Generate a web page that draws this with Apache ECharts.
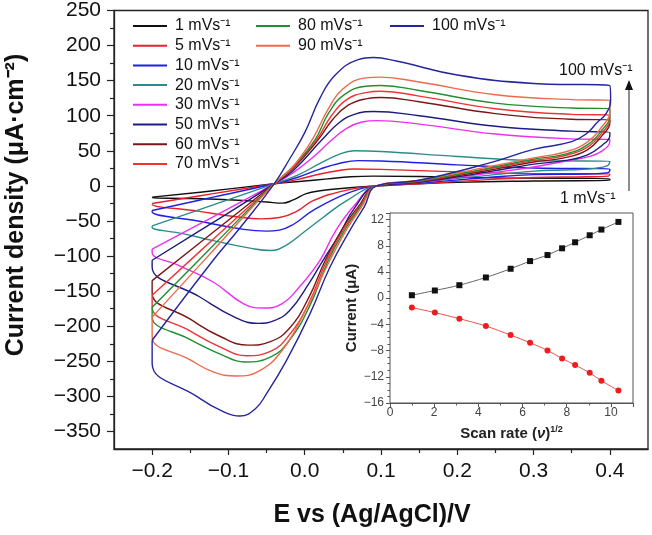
<!DOCTYPE html>
<html><head><meta charset="utf-8">
<script src="https://cdn.jsdelivr.net/npm/echarts@6/dist/echarts.min.js"></script>
<style>html,body{margin:0;padding:0;background:#fff}#c{width:652px;height:535px}</style>
</head><body><div id="c"></div>
<script>
// ---------- data ----------
const scanRates = [1, 5, 10, 20, 30, 50, 60, 70, 80, 90, 100];

const cv1 = [[-0.2,-16],[-0.12,-7],[-0.04,3],[0.0,7],[0.03,10],[0.06,13],[0.09,14],[0.15,13.5],[0.25,11.5],[0.4,10],
  [0.4,8],[0.3,7],[0.2,5],[0.094,0],[0.055,-3],[0.02,-7],[0.002,-11],[-0.015,-20],[-0.029,-24.5],[-0.05,-23],[-0.094,-20],[-0.15,-18],[-0.2,-17],[-0.2,-16]];
const cv5 = [[-0.2,-25],[-0.12,-11],[-0.04,3],[-0.01,9],[0.02,17],[0.045,22],[0.065,24],[0.1,23.5],[0.2,20],[0.3,17.5],[0.4,17],
  [0.398,14],[0.37,13],[0.3,12],[0.24,9],[0.15,3],[0.094,0],[0.055,-6],[0.011,-21],[-0.01,-36],[-0.033,-45],[-0.057,-47],[-0.09,-44],[-0.14,-36],[-0.2,-26],[-0.2,-25]];
const cv10 = [[-0.2,-35],[-0.12,-16],[-0.04,3],[-0.01,12],[0.02,24],[0.045,32],[0.07,36],[0.1,35.5],[0.2,30],[0.3,25.5],[0.4,24],
  [0.398,19],[0.37,17],[0.3,16],[0.24,12],[0.15,4],[0.094,0],[0.055,-11],[0.011,-35],[-0.015,-55],[-0.033,-63],[-0.05,-64.5],[-0.08,-62],[-0.14,-50],[-0.2,-37],[-0.2,-35]];
const cv20 = [[-0.2,-57],[-0.12,-27],[-0.04,3],[-0.01,15],[0.02,32],[0.045,45],[0.065,50],[0.1,49],[0.2,42],[0.3,36],[0.4,35],
  [0.397,29],[0.38,25],[0.35,23],[0.3,21],[0.24,15],[0.15,5],[0.094,0],[0.055,-21],[0.024,-45],[0.0,-65],[-0.025,-85],[-0.045,-92],[-0.07,-89],[-0.12,-78],[-0.16,-68],[-0.2,-59],[-0.2,-57]];
const cv30 = [[-0.2,-90],[-0.12,-44],[-0.04,3],[-0.015,19],[0.01,40],[0.035,65],[0.055,82],[0.075,91],[0.095,93],[0.15,88],[0.25,74],[0.35,67],[0.4,66],
  [0.4,64],[0.39,50],[0.37,41],[0.35,37],[0.3,27],[0.24,18],[0.15,5],[0.094,0],[0.065,-28],[0.04,-65],[0.02,-106],[-0.007,-144],[-0.03,-168],[-0.055,-174],[-0.08,-168],[-0.12,-137],[-0.164,-114],[-0.2,-95],[-0.2,-90]];
const cv50 = [[-0.2,-106],[-0.12,-52],[-0.04,3],[-0.015,22],[0.022,65],[0.045,90],[0.065,102],[0.09,106],[0.15,100],[0.25,85],[0.35,78],[0.4,76],
  [0.4,72],[0.39,58],[0.37,44],[0.34,36],[0.3,31],[0.24,20],[0.15,5],[0.094,0],[0.065,-32],[0.045,-70],[0.024,-106],[0.005,-140],[-0.02,-178],[-0.04,-192],[-0.061,-196],[-0.09,-188],[-0.138,-158],[-0.2,-116],[-0.2,-106]];
const cv60 = [[-0.2,-135],[-0.12,-66],[-0.04,3],[-0.015,25],[0.017,65],[0.037,95],[0.057,115],[0.08,124],[0.1,126],[0.15,120],[0.25,103],[0.35,95],[0.4,94],
  [0.4,90],[0.39,72],[0.37,51],[0.34,40],[0.3,34],[0.24,22],[0.15,6],[0.094,0],[0.07,-30],[0.05,-60],[0.027,-106],[0.005,-160],[-0.02,-203],[-0.045,-222],[-0.074,-227],[-0.11,-215],[-0.15,-190],[-0.2,-153],[-0.2,-135]];
const cv70 = [[-0.2,-156],[-0.12,-76],[-0.04,3],[-0.015,27],[0.015,65],[0.035,100],[0.055,123],[0.08,133],[0.1,135],[0.15,128],[0.25,110],[0.35,102],[0.4,101],
  [0.4,95],[0.39,76],[0.37,55],[0.34,43],[0.3,36],[0.24,24],[0.15,6.5],[0.094,0],[0.072,-30],[0.052,-60],[0.029,-106],[0.005,-168],[-0.02,-212],[-0.045,-236],[-0.076,-242],[-0.11,-230],[-0.15,-207],[-0.2,-173],[-0.2,-156]];
const cv80 = [[-0.2,-173],[-0.12,-85],[-0.04,3],[-0.015,28],[0.013,65],[0.032,105],[0.052,130],[0.08,142],[0.1,143],[0.15,136],[0.25,118],[0.35,111],[0.4,110],
  [0.4,100],[0.39,80],[0.37,58],[0.34,45],[0.3,38],[0.24,25],[0.15,7],[0.094,0],[0.073,-30],[0.054,-60],[0.031,-106],[0.007,-170],[-0.02,-220],[-0.045,-244],[-0.079,-251],[-0.11,-240],[-0.15,-219],[-0.2,-187],[-0.2,-173]];
const cv90 = [[-0.2,-187],[-0.12,-92],[-0.04,3],[-0.015,28],[0.011,68],[0.03,108],[0.05,138],[0.08,154],[0.1,155],[0.15,148],[0.25,130],[0.35,123],[0.4,122],
  [0.4,105],[0.39,85],[0.37,62],[0.34,48],[0.3,40],[0.24,27],[0.15,8],[0.094,0],[0.074,-31],[0.055,-62],[0.033,-106],[0.0,-180],[-0.03,-235],[-0.06,-264],[-0.09,-271],[-0.12,-265],[-0.15,-248],[-0.2,-215],[-0.2,-187]];
const cv100 = [[-0.2,-220],[-0.12,-106],[-0.085,-60],[-0.04,3],[-0.02,38],[0.0,76],[0.02,125],[0.04,158],[0.07,180],[0.09,183],[0.12,178],[0.2,158],[0.3,146],[0.4,143],
  [0.401,122],[0.395,103],[0.383,90],[0.37,75],[0.35,63],[0.3,52],[0.24,32],[0.15,8],[0.094,0],[0.078,-30],[0.06,-62],[0.033,-116],[0.007,-182],[-0.024,-249],[-0.05,-296],[-0.065,-318],[-0.085,-328],[-0.11,-320],[-0.14,-301],[-0.2,-253],[-0.2,-220]];

const curves = [cv1, cv5, cv10, cv20, cv30, cv50, cv60, cv70, cv80, cv90, cv100];

// inset: peak current vs sqrt(scan rate)
const insetRate = [0.99, 2.03, 3.14, 4.34, 5.46, 6.34, 7.13, 7.79, 8.38, 9.04, 9.57, 10.34];
const insetAnodic = [0.45, 1.17, 1.98, 3.16, 4.49, 5.66, 6.58, 7.61, 8.53, 9.6, 10.47, 11.64];
const insetCathodic = [-1.44, -2.2, -3.13, -4.25, -5.63, -6.8, -7.98, -9.2, -10.2, -11.4, -12.6, -14.1];

// tick values
const xTicks = [-0.2, -0.1, 0.0, 0.1, 0.2, 0.3, 0.4];
const xMinorTicks = [-0.15, -0.05, 0.05, 0.15, 0.25, 0.35];
const yTicks = [-350, -300, -250, -200, -150, -100, -50, 0, 50, 100, 150, 200, 250];
const yMinorTicks = [-325, -275, -225, -175, -125, -75, -25, 25, 75, 125, 175, 225];

// ---------- styles ----------
const curveColors = ['#111111', '#e8202a', '#1f1fe6', '#2a8c8c', '#ee2ff0', '#1c1c7e', '#7c1616', '#f03434', '#1f8f2f', '#ee6a4c', '#25259c'];
const FONT = '"Liberation Sans", Arial, Helvetica, sans-serif';
const minus = s => String(s).replace('-', '\u2212');
const names = scanRates.map(r => r + ' mVs\u207B\u00B9');

const mainSeries = curves.map((d, i) => ({
  type: 'line', name: names[i], xAxisIndex: 0, yAxisIndex: 0,
  data: d, symbol: 'none', showSymbol: false, smooth: 0.45,
  lineStyle: { width: 1.4, color: curveColors[i] }, itemStyle: { color: curveColors[i] },
  z: 2 + i
}));

const legendBase = {
  orient: 'vertical', top: 13, itemWidth: 34, itemHeight: 2, itemGap: 3.7,
  icon: 'rect', selectedMode: false,
  textStyle: { fontSize: 16, lineHeight: 16, color: '#111', fontFamily: FONT, padding: [0, 0, 0, 3] }
};

const chart = echarts.init(document.getElementById('c'), null, { renderer: 'canvas' });
chart.setOption({
  animation: false,
  backgroundColor: '#fff',
  textStyle: { fontFamily: FONT },
  grid: [
    { left: 114, right: 4, top: 10, bottom: 86, show: true, borderColor: '#222', borderWidth: 1.3, backgroundColor: 'transparent', containLabel: false },
    { left: 390, right: 19, top: 213, bottom: 132, show: true, borderColor: '#555', borderWidth: 1, backgroundColor: '#fff', z: 10, containLabel: false }
  ],
  legend: [
    Object.assign({}, legendBase, { left: 128, data: names.slice(0, 8) }),
    Object.assign({}, legendBase, { left: 251, data: names.slice(8, 10) }),
    Object.assign({}, legendBase, { left: 385, data: names.slice(10) })
  ],
  xAxis: [
    { type: 'value', gridIndex: 0, min: -0.25, max: 0.45, position: 'bottom',
      axisLine: { show: true, onZero: false, lineStyle: { color: '#222', width: 1.3 } },
      axisTick: { show: true, length: 6, lineStyle: { color: '#222', width: 1.2 }, customValues: xTicks },
      axisLabel: { customValues: xTicks, fontSize: 21, color: '#111', margin: 12, fontFamily: FONT,
        formatter: v => minus(Number(v).toFixed(1)) },
      splitLine: { show: false } },
    { type: 'value', gridIndex: 0, min: -0.25, max: 0.45, position: 'bottom',
      axisLine: { show: false, onZero: false },
      axisTick: { show: true, length: 4, lineStyle: { color: '#222', width: 1.2 }, customValues: xMinorTicks },
      axisLabel: { show: false }, splitLine: { show: false } },
    { type: 'value', gridIndex: 1, min: 0, max: 11, interval: 2,
      axisLine: { show: true, onZero: false, lineStyle: { color: '#555', width: 1 } },
      axisTick: { show: true, length: 4, lineStyle: { color: '#555' } },
      minorTick: { show: true, splitNumber: 2, length: 2.5, lineStyle: { color: '#555' } },
      axisLabel: { fontSize: 12, color: '#444', margin: 4, fontFamily: FONT, showMaxLabel: false },
      splitLine: { show: false },
      name: '{a|Scan rate (}{i|\u03BD}{a|)}{s|1/2}', nameLocation: 'middle', nameGap: 22,
      nameTextStyle: { rich: {
        a: { fontSize: 15, fontWeight: 'bold', color: '#222', fontFamily: FONT },
        i: { fontSize: 15, fontWeight: 'bold', fontStyle: 'italic', color: '#222', fontFamily: FONT },
        s: { fontSize: 9, fontWeight: 'bold', color: '#222', fontFamily: FONT, padding: [0, 0, 9, 0] }
      } } }
  ],
  yAxis: [
    { type: 'value', gridIndex: 0, min: -375, max: 250, position: 'left',
      axisLine: { show: true, onZero: false, lineStyle: { color: '#222', width: 1.3 } },
      axisTick: { show: true, length: 7, lineStyle: { color: '#222', width: 1.2 }, customValues: yTicks },
      axisLabel: { customValues: yTicks, fontSize: 21, color: '#111', margin: 13, fontFamily: FONT,
        formatter: v => minus(v) },
      splitLine: { show: false } },
    { type: 'value', gridIndex: 0, min: -375, max: 250, position: 'left',
      axisLine: { show: false, onZero: false },
      axisTick: { show: true, length: 4, lineStyle: { color: '#222', width: 1.2 }, customValues: yMinorTicks },
      axisLabel: { show: false }, splitLine: { show: false } },
    { type: 'value', gridIndex: 1, min: -16, max: 13, interval: 4,
      axisLine: { show: true, onZero: false, lineStyle: { color: '#555', width: 1 } },
      axisTick: { show: true, length: 4, lineStyle: { color: '#555' } },
      minorTick: { show: true, splitNumber: 4, length: 2.5, lineStyle: { color: '#555' } },
      axisLabel: { fontSize: 12, color: '#444', margin: 6, fontFamily: FONT, showMaxLabel: false,
        formatter: v => minus(v) },
      splitLine: { show: false },
      name: 'Current (\u03BCA)', nameLocation: 'middle', nameGap: 30,
      nameTextStyle: { fontSize: 15, fontWeight: 'bold', color: '#222', fontFamily: FONT } }
  ],
  series: mainSeries.concat([
    { type: 'line', name: 'anodic peak', xAxisIndex: 2, yAxisIndex: 2, z: 20,
      data: insetRate.map((x, i) => [x, insetAnodic[i]]),
      symbol: 'rect', symbolSize: 6, smooth: 0.3,
      lineStyle: { color: '#666', width: 1 }, itemStyle: { color: '#111' } },
    { type: 'line', name: 'cathodic peak', xAxisIndex: 2, yAxisIndex: 2, z: 20,
      data: insetRate.map((x, i) => [x, insetCathodic[i]]),
      symbol: 'circle', symbolSize: 6, smooth: 0.3,
      lineStyle: { color: '#f05050', width: 1 }, itemStyle: { color: '#ee1c1c' } }
  ]),
  graphic: [
    { type: 'text', x: 16, y: 205, rotation: Math.PI / 2, z: 50,
      style: { text: 'Current density (\u03BCA\u00B7cm\u207B\u00B2)', font: 'bold 25px ' + FONT, fill: '#111', textAlign: 'center', textVerticalAlign: 'middle' } },
    { type: 'text', x: 372, y: 515, z: 50,
      style: { text: 'E vs (Ag/AgCl)/V', font: 'bold 25px ' + FONT, fill: '#111', textAlign: 'center', textVerticalAlign: 'middle' } },
    { type: 'text', x: 559, y: 71, z: 50,
      style: { text: '100 mVs\u207B\u00B9', font: '16px ' + FONT, fill: '#111', textAlign: 'left', textVerticalAlign: 'middle' } },
    { type: 'text', x: 560, y: 199, z: 50,
      style: { text: '1 mVs\u207B\u00B9', font: '16px ' + FONT, fill: '#111', textAlign: 'left', textVerticalAlign: 'middle' } },
    { type: 'line', z: 50, shape: { x1: 629, y1: 191, x2: 629, y2: 88 }, style: { stroke: '#444', lineWidth: 1.2 } },
    { type: 'polygon', z: 50, shape: { points: [[625, 90], [633, 90], [629, 80]] }, style: { fill: '#111' } }
  ]
});
</script></body></html>
